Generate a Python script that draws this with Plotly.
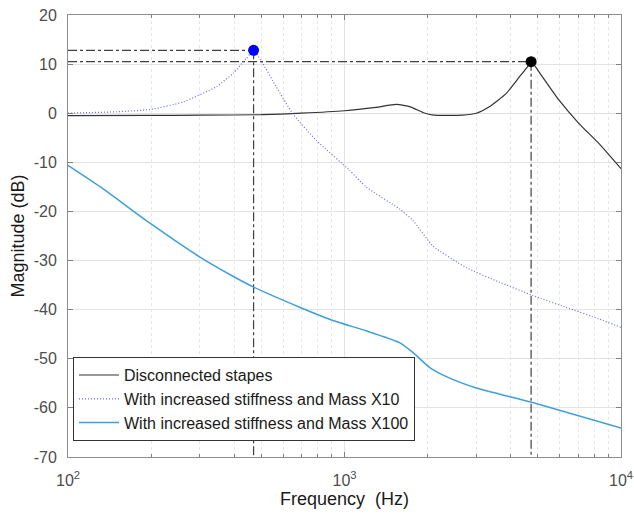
import plotly.graph_objects as go

# ---- data ----
f_black = [100, 200, 300, 500, 700, 1000, 1300, 1540, 1730, 1930, 2100, 2400, 2670, 3000, 3340, 3840, 4290, 4590, 4730, 5200, 5970, 7050, 8330, 10000]
db_black = [-0.5, -0.45, -0.4, -0.3, 0.0, 0.5, 1.2, 1.8, 1.3, 0.1, -0.4, -0.45, -0.4, 0.0, 1.3, 4.0, 7.4, 9.45, 10.5, 7.4, 2.65, -2.1, -6.2, -11.3]

f_x10 = [100, 150, 198, 261, 344, 395, 442, 469, 507, 566, 650, 790, 1042, 1197, 1581, 1766, 2084, 2750, 3630, 4790, 6310, 8320, 10000]
db_x10 = [0.0, 0.3, 0.75, 2.3, 5.4, 8.1, 11.2, 12.8, 10.1, 5.4, -0.1, -5.5, -11.6, -15.0, -19.5, -21.8, -27.0, -31.4, -34.4, -37.1, -39.5, -41.9, -43.6]

f_x100 = [100, 131, 198, 300, 395, 469, 688, 908, 1197, 1581, 1766, 2034, 2368, 2976, 4790, 10000]
db_x100 = [-10.6, -15.0, -22.4, -29.3, -33.2, -35.4, -39.5, -42.2, -44.3, -46.7, -48.7, -51.8, -53.8, -55.9, -58.9, -64.1]

peak_x10 = (469, 12.8)
peak_black = (4730, 10.5)

names = ["Disconnected stapes",
         "With increased stiffness and Mass X10",
         "With increased stiffness and Mass X100"]

x_tickvals = [100, 1000, 10000]
x_ticktext = ["10<sup>2</sup>", "10<sup>3</sup>", "10<sup>4</sup>"]
x_minor = [m * d for d in (100, 1000) for m in range(2, 10)]
y_tickvals = list(range(-70, 21, 10))
y_ticktext = [str(v) for v in y_tickvals]

FONT = "Liberation Sans, Arial, sans-serif"
XMIN, YMIN = 100, -70

fig = go.Figure()

# reference dash-dot lines
for (px, py) in (peak_x10, peak_black):
    fig.add_trace(go.Scatter(x=[XMIN, px], y=[py, py], mode="lines",
                             line=dict(color="#404040", width=1.2, dash="dashdot"),
                             showlegend=False, hoverinfo="skip"))
    fig.add_trace(go.Scatter(x=[px, px], y=[py, YMIN], mode="lines",
                             line=dict(color="#404040", width=1.2, dash="dashdot"),
                             showlegend=False, hoverinfo="skip"))

fig.add_trace(go.Scatter(x=f_black, y=db_black, mode="lines", name=names[0],
                         line=dict(color="#333333", width=1.2, shape="spline", smoothing=0.5)))
fig.add_trace(go.Scatter(x=f_x10, y=db_x10, mode="lines", name=names[1],
                         line=dict(color="#6a6ae8", width=1.2, dash="1px,2px", shape="spline", smoothing=0.5)))
fig.add_trace(go.Scatter(x=f_x100, y=db_x100, mode="lines", name=names[2],
                         line=dict(color="#3f9fd8", width=1.5, shape="spline", smoothing=0.5)))

fig.add_trace(go.Scatter(x=[peak_x10[0]], y=[peak_x10[1]], mode="markers",
                         marker=dict(color="#0000ff", size=11), showlegend=False))
fig.add_trace(go.Scatter(x=[peak_black[0]], y=[peak_black[1]], mode="markers",
                         marker=dict(color="#000000", size=11), showlegend=False))

fig.update_layout(
    width=634, height=516,
    margin=dict(l=68, r=13, t=15, b=59),
    paper_bgcolor="white", plot_bgcolor="white",
    font=dict(family=FONT, size=16, color="#4d4d4d"),
    showlegend=True,
    legend=dict(x=0.009, y=0.036, xanchor="left", yanchor="bottom",
                bgcolor="white", bordercolor="#333333", borderwidth=1,
                font=dict(family=FONT, size=16, color="#1a1a1a"),
                tracegroupgap=0, itemwidth=40),
)

fig.update_xaxes(
    type="log", range=[2, 4], automargin=False,
    tickmode="array", tickvals=x_tickvals, ticktext=x_ticktext,
    ticks="inside", ticklen=5, tickcolor="#808080",
    showline=True, linecolor="#8c8c8c", linewidth=1, mirror="ticks",
    showgrid=True, gridcolor="#e3e3e3", gridwidth=1,
    minor=dict(tickvals=x_minor, ticks="inside", ticklen=3, tickcolor="#808080",
               showgrid=True, gridcolor="#e6e6e6", griddash="dot", gridwidth=1),
    ticklabelstandoff=9,
    title=dict(text="Frequency\u00a0 (Hz)", font=dict(family=FONT, size=18, color="#1a1a1a"), standoff=2),
    zeroline=False,
)
fig.update_yaxes(
    range=[-70, 20], automargin=False,
    tickmode="array", tickvals=y_tickvals, ticktext=y_ticktext,
    ticks="inside", ticklen=5, tickcolor="#808080",
    showline=True, linecolor="#8c8c8c", linewidth=1, mirror="ticks",
    showgrid=True, gridcolor="#e3e3e3", gridwidth=1,
    ticklabelstandoff=7,
    title=dict(text="Magnitude (dB)", font=dict(family=FONT, size=18, color="#1a1a1a"), standoff=4),
    zeroline=False,
)

fig.write_html("out.html")
